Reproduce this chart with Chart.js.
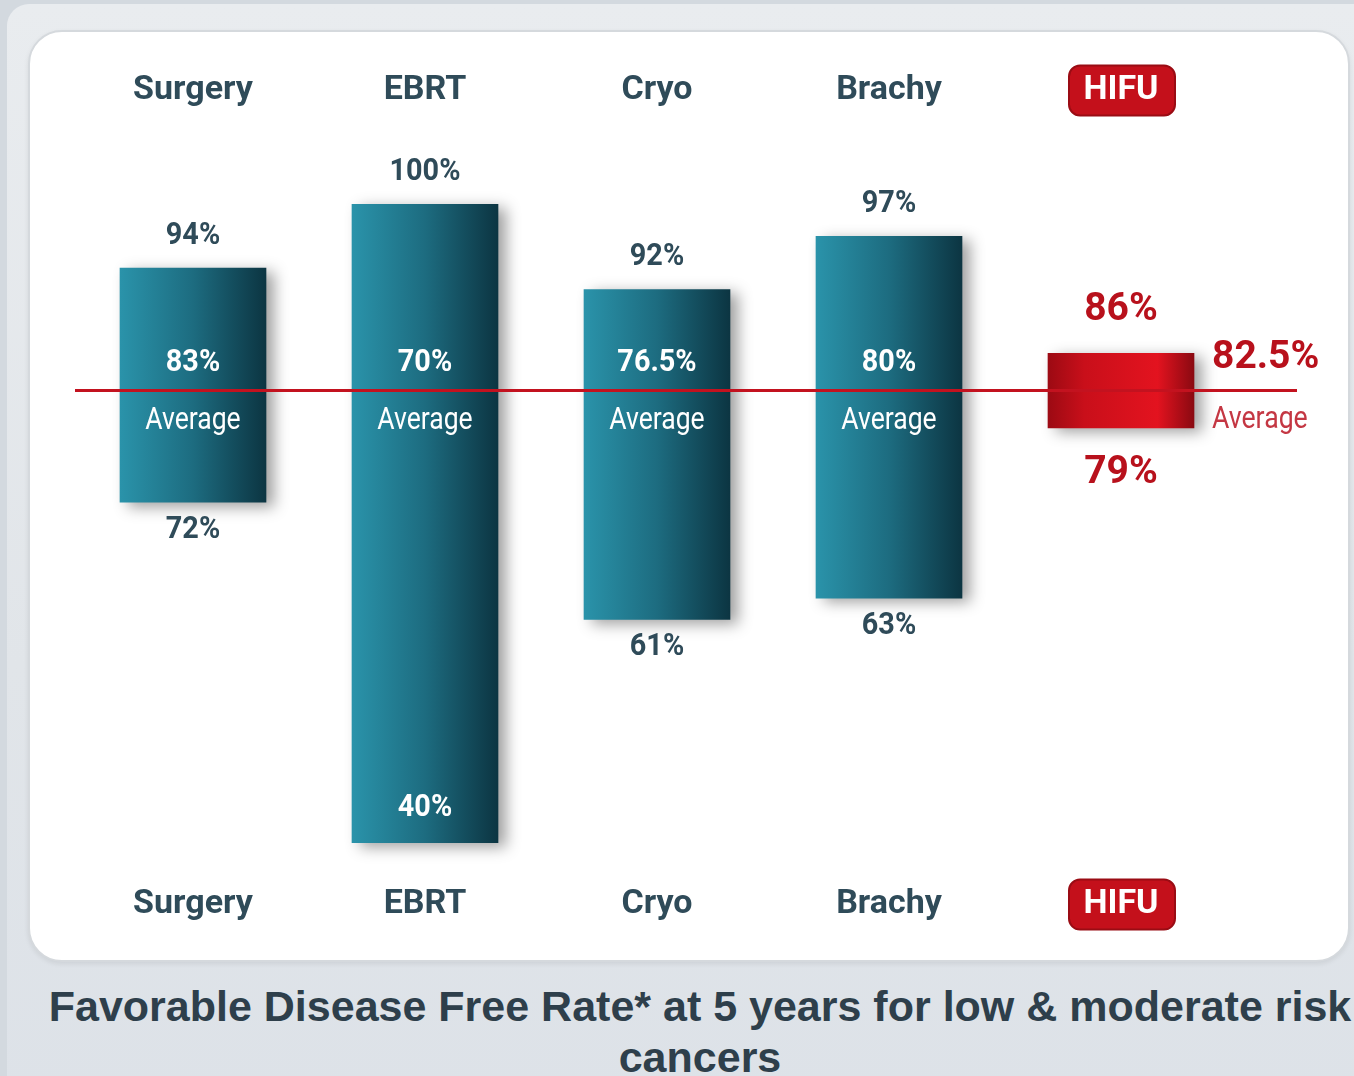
<!DOCTYPE html>
<html>
<head>
<meta charset="utf-8">
<title>Favorable Disease Free Rate</title>
<script src="https://cdn.jsdelivr.net/npm/chart.js@4.4.1/dist/chart.umd.min.js"></script>
<style>
  html, body { margin: 0; padding: 0; width: 1354px; height: 1076px; overflow: hidden; background: #d3d9df; }
  .outer {
    position: absolute; left: 7px; top: 4px; width: 1370px; height: 1100px;
    border-radius: 22px;
    background: linear-gradient(#e9ecef, #e1e5e9 60%, #dde2e8);
  }
  .panel {
    position: absolute; left: 28px; top: 30px; width: 1318px; height: 928px;
    border-radius: 34px; background: #fff;
    border: 2px solid #d5d9dd;
    box-shadow: 0 2px 5px rgba(0, 0, 0, 0.08);
  }
  .chart-box { position: absolute; left: 0; top: 0; width: 1354px; height: 960px; }
  .caption {
    position: absolute; left: 46px; top: 981px; width: 1308px;
    text-align: center; white-space: nowrap;
    font: bold 43px/51px "Liberation Sans", Arial, sans-serif;
    color: #2e3f4b;
  }
</style>
</head>
<body>
<div class="outer"></div>
<div class="panel"></div>
<div class="chart-box"><canvas id="chart"></canvas></div>
<div class="caption">Favorable Disease Free Rate* at 5 years for low &amp; moderate risk<br>cancers</div>

<script>
// values (%)
const categories = ['Surgery', 'EBRT', 'Cryo', 'Brachy', 'HIFU'];
const lowRates = [72, 40, 61, 63, 79];
const highRates = [94, 100, 92, 97, 86];
const avgRates = [83, 70, 76.5, 80, 82.5];
const HL = 4; // highlighted treatment (HIFU)

const BAR_W = 146;
const FONT = 'Roboto, "Liberation Sans", sans-serif';
const SLATE = '#2f4b59';
const RED = '#b8111c';

function barGradient(ctx) {
  const chart = ctx.chart;
  if (!chart.chartArea || ctx.type !== 'data') return '#1d6a7e';
  const cx = chart.scales.x.getPixelForValue(ctx.dataIndex);
  const g = chart.ctx.createLinearGradient(cx - BAR_W / 2, 0, cx + BAR_W / 2, 0);
  if (ctx.dataIndex === HL) {
    g.addColorStop(0, '#9c0a13');
    g.addColorStop(0.25, '#c90f1a');
    g.addColorStop(0.75, '#e3131f');
    g.addColorStop(1, '#8a0911');
  } else {
    g.addColorStop(0, '#2a93aa');
    g.addColorStop(0.5, '#1d6c80');
    g.addColorStop(1, '#0c3542');
  }
  return g;
}

// condensed text, like the narrow face of the original
function narrowText(c, text, x, y, sx) {
  c.save();
  c.translate(x, y);
  c.scale(sx, 1);
  c.fillText(text, 0, 0);
  c.restore();
}

// red rounded box behind the HIFU labels
const tickBadge = {
  id: 'tickBadge',
  beforeDraw(chart) {
    const c = chart.ctx;
    ['x', 'xTop'].forEach(id => {
      const s = chart.scales[id];
      const lh = 34 * 1.2;
      const pad = s.options.ticks.padding;
      const cy = s.options.position === 'top' ? s.bottom - pad - lh / 2 : s.top + pad + lh / 2;
      const cx = s.getPixelForTick(HL) + 1;
      c.save();
      c.fillStyle = '#c4101b';
      c.strokeStyle = '#9a0c14';
      c.lineWidth = 2;
      c.beginPath();
      c.roundRect(cx - 53, cy - 25, 106, 50, 11);
      c.fill();
      c.stroke();
      c.restore();
    });
  }
};

const rangeLabels = {
  id: 'rangeLabels',
  beforeDatasetsDraw(chart) {
    const c = chart.ctx;
    c.save();
    c.shadowColor = 'rgba(0, 0, 0, 0.38)';
    c.shadowBlur = 14;
    c.shadowOffsetX = 8;
    c.shadowOffsetY = 4;
  },
  afterDatasetsDraw(chart) {
    const c = chart.ctx;
    c.restore();
    const x = chart.scales.x, y = chart.scales.y, area = chart.chartArea;
    const avgY = y.getPixelForValue(avgRates[HL]);

    // average line of the highlighted treatment
    c.save();
    c.strokeStyle = '#c3121f';
    c.lineWidth = 3;
    c.beginPath();
    c.moveTo(area.left - 2, avgY);
    c.lineTo(area.right + 60, avgY);
    c.stroke();

    c.textBaseline = 'middle';
    categories.forEach((cat, i) => {
      const cx = x.getPixelForValue(i);
      const top = y.getPixelForValue(highRates[i]);
      const bot = y.getPixelForValue(lowRates[i]);
      c.textAlign = 'center';
      if (i === HL) {
        c.fillStyle = RED;
        c.font = 'bold 39px ' + FONT;
        narrowText(c, highRates[i] + '%', cx, top - 43, 1);
        narrowText(c, lowRates[i] + '%', cx, bot + 45, 1);
        c.textAlign = 'left';
        narrowText(c, avgRates[i] + '%', cx + BAR_W / 2 + 18, avgY - 32, 1);
        c.fillStyle = '#c43743';
        c.font = '31px ' + FONT;
        narrowText(c, 'Average', cx + BAR_W / 2 + 18, avgY + 30, 0.86);
        return;
      }
      c.font = 'bold 31px ' + FONT;
      c.fillStyle = SLATE;
      narrowText(c, highRates[i] + '%', cx, top - 32, 0.93);
      if (bot + 34 > area.bottom) {
        c.fillStyle = '#ffffff';
        narrowText(c, lowRates[i] + '%', cx, bot - 35, 0.93);
      } else {
        narrowText(c, lowRates[i] + '%', cx, bot + 28, 0.93);
      }
      c.fillStyle = '#ffffff';
      narrowText(c, avgRates[i] + '%', cx, avgY - 27, 0.93);
      c.font = '32px ' + FONT;
      narrowText(c, 'Average', cx, avgY + 30, 0.83);
    });
    c.restore();
  }
};

const tickFont = { family: FONT, size: 34, weight: 'bold', lineHeight: 1.2 };
const tickColor = ctx => (ctx.index === HL ? '#ffffff' : SLATE);

new Chart(document.getElementById('chart'), {
  type: 'bar',
  data: {
    labels: categories,
    datasets: [{
      label: 'Disease free rate range',
      data: categories.map((c, i) => [lowRates[i], highRates[i]]),
      backgroundColor: barGradient,
      borderWidth: 0,
      barThickness: BAR_W
    }]
  },
  options: {
    responsive: true,
    maintainAspectRatio: false,
    animation: false,
    layout: { padding: { left: 77, right: 117, top: 52, bottom: 17 } },
    plugins: {
      legend: { display: false },
      tooltip: { enabled: false }
    },
    scales: {
      x: {
        position: 'bottom',
        grid: { display: false, drawTicks: false },
        border: { display: false },
        ticks: { font: tickFont, color: tickColor, padding: 18 }
      },
      xTop: {
        type: 'category',
        labels: categories,
        position: 'top',
        grid: { display: false, drawTicks: false },
        border: { display: false },
        ticks: { font: tickFont, color: tickColor, padding: 18 }
      },
      y: {
        display: false,
        min: 37.8,
        max: 107.1
      }
    }
  },
  plugins: [tickBadge, rangeLabels]
});
</script>
</body>
</html>
